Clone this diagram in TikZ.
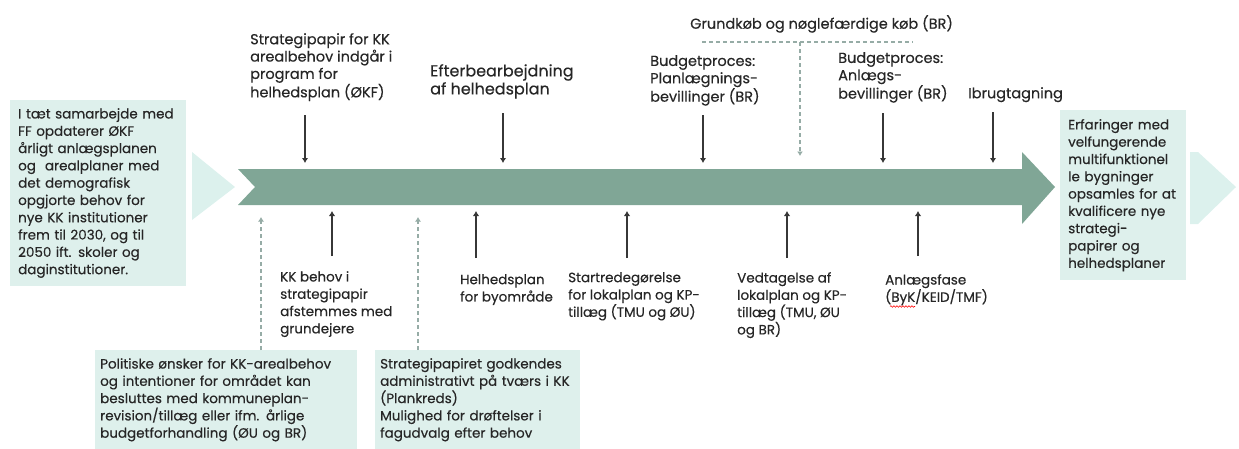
\documentclass[tikz,border=0pt]{standalone}
\usepackage{fontspec}
\setmainfont{Poppins}[FakeBold=0.35]
\usetikzlibrary{arrows.meta,decorations.pathmorphing}
\definecolor{timeline}{RGB}{128,166,150}
\definecolor{mint}{RGB}{222,240,236}
\definecolor{pale}{RGB}{220,241,237}
\definecolor{hintgrey}{RGB}{150,172,166}
\definecolor{ink}{RGB}{55,55,55}
\tikzset{
  note/.style={anchor=north west, align=left, inner sep=0pt, text=black!85,
    font=\fontsize{13.5}{17.3}\selectfont},
  topnote/.style={note, font=\fontsize{14.5}{17.3}\selectfont},
  bignote/.style={note, font=\fontsize{16}{18}\selectfont},
  infobox/.style={note, fill=mint, inner xsep=8pt, inner ysep=8pt},
  down/.style={draw=ink, line width=2.2pt, -{Latex[length=5pt,width=6.5pt]}},
  hint/.style={draw=hintgrey, line width=1.4pt, dash pattern=on 4pt off 3pt,
    -{Latex[length=4.5pt,width=6pt]}},
}
\begin{document}
\begin{tikzpicture}[x=1pt,y=-1pt]
        \useasboundingbox (0,0) rectangle (1239,448);
        % pale arrows before and after
        \fill[pale] (192,152) -- (235,187) -- (192,220) -- cycle;
        \fill[pale] (1190,152) -- (1198,152) -- (1236,187) -- (1198,224) -- (1190,224) -- cycle;
        % timeline arrow
        \fill[timeline] (238,169) -- (1022,169) -- (1022,152) -- (1055,187)
          -- (1022,224) -- (1022,205) -- (238,205) -- (255,187) -- cycle;
        \coordinate (upper) at (0,163);
        \coordinate (lower) at (0,211);
        % boxes
        \node[infobox, text width=160pt, minimum width=175pt,
          minimum height=180pt, anchor=north west] (start) at (10,100)
          {I tæt samarbejde med\\FF opdaterer ØKF\\årligt anlægsplanen\\og\ \ arealplaner med\\det demografisk\\opgjorte behov for\\nye KK institutioner\\frem til 2030, og til\\2050 ift. skoler og\\daginstitutioner.};
        \node[infobox, text width=110pt, minimum width=125pt, minimum height=170pt,
          anchor=north west] (erfaring) at (1060,110)
          {Erfaringer med\\velfungerende\\multifunktionel\\le bygninger\\opsamles for at\\kvalificere nye\\strategi-\\papirer og\\helhedsplaner};
        \node[infobox, inner xsep=5pt, text width=252pt] (politik) at (95,350)
          {Politiske ønsker for KK-arealbehov\\og intentioner for området kan\\besluttes med kommuneplan-\\revision/tillæg eller ifm. årlige\\budgetforhandling (ØU og BR)};
        \node[infobox, inner xsep=5pt, text width=195pt] (godkend) at (375,350)
          {Strategipapiret godkendes\\administrativt på tværs i KK\\(Plankreds)\\Mulighed for drøftelser i\\fagudvalg efter behov};
        % labels above
        \node[topnote] (strat) at (250,33) {Strategipapir for KK\\arealbehov indgår i\\program for\\helhedsplan (ØKF)};
        \node[bignote] (efter) at (430,64) {Efterbearbejdning\\af helhedsplan};
        \node[topnote] (grund) at (690,15) {Grundkøb og nøglefærdige køb (BR)};
        \node[topnote] (planbev) at (650,55) {Budgetproces:\\Planlægnings-\\bevillinger (BR)};
        \node[topnote] (anlbev) at (838,52) {Budgetproces:\\Anlægs-\\bevillinger (BR)};
        \node[topnote] (ibrug) at (968,87) {Ibrugtagning};
        % labels below
        \node[note] (kkbehov) at (280,271) {KK behov i\\strategipapir\\afstemmes med\\grundejere};
        \node[note] (helhed) at (460,274) {Helhedsplan\\for byområde};
        \node[note] (startred) at (568,272) {Startredegørelse\\for lokalplan og KP-\\tillæg (TMU og ØU)};
        \node[note] (vedtag) at (737,272) {Vedtagelse af\\lokalplan og KP-\\tillæg (TMU, ØU\\og BR)};
        \node[note] (anlfase) at (885,274) {Anlægsfase\\(ByK/KEID/TMF)};
        \draw[red, line width=0.6pt, decorate, decoration={snake, amplitude=0.8pt, segment length=3pt}]
          ([xshift=5pt, yshift=-1pt]anlfase.south west) -- ++(25,0);
        % arrows down onto the timeline
        \coordinate (a1) at (305,115);
        \coordinate (a2) at (503,113);
        \coordinate (a3) at (703,115);
        \coordinate (a4) at (883,113);
        \coordinate (a5) at (993,112);
        \foreach \c in {a1,a2,a3,a4,a5}
          \draw[down] (\c) -- (\c |- upper);
        % dashed purchase line
        \coordinate (gl) at (702,42);
        \coordinate (gr) at (913,42);
        \coordinate (gm) at (800,42);
        \coordinate (gtip) at (800,156);
        \draw[hintgrey, line width=1.4pt, dash pattern=on 4pt off 3pt] (gl) -- (gr);
        \draw[hint] (gm) -- (gtip);
        % arrows up from below
        \coordinate (b1) at (332,256);
        \coordinate (b2) at (476,258);
        \coordinate (b3) at (627,258);
        \coordinate (b4) at (787,258);
        \coordinate (b5) at (918,256);
        \foreach \c in {b1,b2,b3,b4,b5}
          \draw[down] (\c) -- (\c |- lower);
        \coordinate (d1) at (261,217);
        \coordinate (d2) at (418,217);
        \draw[hint] (politik.north -| d1) -- (d1);
        \draw[hint] (godkend.north -| d2) -- (d2);
\end{tikzpicture}
\end{document}
